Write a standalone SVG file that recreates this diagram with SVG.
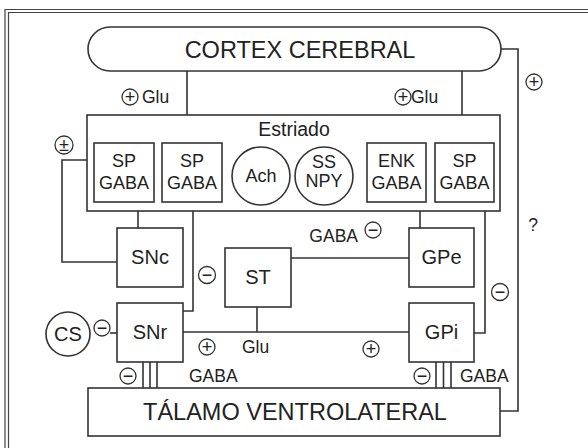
<svg xmlns="http://www.w3.org/2000/svg" width="588" height="448" viewBox="0 0 588 448">
<style>
text{font-family:"Liberation Sans",Arial,sans-serif;fill:#222}
.box{fill:#fff;stroke:#333;stroke-width:1.6}
.ln{fill:none;stroke:#333;stroke-width:1.6}
.frame{fill:none;stroke:#444;stroke-width:1.2}
.big{font-size:23.5px;text-anchor:middle}
.lbl{font-size:20px;text-anchor:middle}
.sm{font-size:18px;text-anchor:middle}
.tag{font-size:17.5px}
.sg circle{fill:#fff;stroke:#333;stroke-width:1.3}
.sg text{font-size:18px;text-anchor:middle}
</style>
<rect width="588" height="448" fill="#fff"/>
<path class="frame" d="M5,448 V9.5 H588"/>
<path class="frame" d="M8.5,448 V12.5 H588"/>

<g id="connectors">
  <path class="ln" d="M187,71 V115"/>
  <path class="ln" d="M462,71 V115"/>
  <path class="ln" d="M501,49 H518 V411 H500"/>
  <path class="ln" d="M87,160 H62 V262 H117"/>
  <path class="ln" d="M138,202 V228"/>
  <path class="ln" d="M193,202 V311 H183"/>
  <path class="ln" d="M420,202 V228"/>
  <path class="ln" d="M485,202 V333 H474"/>
  <path class="ln" d="M291,258 H409"/>
  <path class="ln" d="M257,307 V332"/>
  <path class="ln" d="M183,332 H409"/>
  <path class="ln" d="M110,333 H117"/>
  <path class="ln" d="M143,362 V388 M150,362 V388 M157,362 V388"/>
  <path class="ln" d="M436,362 V388 M443.5,362 V388 M451,362 V388"/>
</g>

<g id="cortex">
  <rect class="box" x="88" y="27" width="413" height="44" rx="22" ry="22"/>
  <text class="big" x="300" y="58">CORTEX CEREBRAL</text>
</g>

<g id="estriado">
  <rect class="box" x="87" y="115" width="413" height="96"/>
  <text x="294" y="136" font-size="19.5" text-anchor="middle">Estriado</text>
</g>
<g id="sp1">
  <rect class="box" x="94" y="143" width="60" height="59"/>
  <text class="sm" x="124" y="167">SP</text>
  <text class="sm" x="124" y="188.5">GABA</text>
</g>
<g id="sp2">
  <rect class="box" x="162" y="143" width="60" height="59"/>
  <text class="sm" x="192" y="167">SP</text>
  <text class="sm" x="192" y="188.5">GABA</text>
</g>
<g id="ach">
  <circle class="box" cx="261" cy="176" r="29"/>
  <text class="sm" x="261" y="182">Ach</text>
</g>
<g id="ssnpy">
  <circle class="box" cx="324" cy="176" r="29"/>
  <text class="sm" x="324" y="168">SS</text>
  <text class="sm" x="324" y="187">NPY</text>
</g>
<g id="enk">
  <rect class="box" x="367" y="143" width="59" height="59"/>
  <text class="sm" x="396.5" y="167">ENK</text>
  <text class="sm" x="396.5" y="188.5">GABA</text>
</g>
<g id="sp4">
  <rect class="box" x="435" y="143" width="59" height="59"/>
  <text class="sm" x="464.5" y="167">SP</text>
  <text class="sm" x="464.5" y="188.5">GABA</text>
</g>

<g id="snc">
  <rect class="box" x="117" y="228" width="66" height="59"/>
  <text class="lbl" x="150" y="264">SNc</text>
</g>
<g id="st">
  <rect class="box" x="225" y="248" width="66" height="59"/>
  <text class="lbl" x="258" y="284">ST</text>
</g>
<g id="gpe">
  <rect class="box" x="409" y="228" width="65" height="59"/>
  <text class="lbl" x="441.5" y="264">GPe</text>
</g>
<g id="snr">
  <rect class="box" x="117" y="303" width="66" height="59"/>
  <text class="lbl" x="150" y="339">SNr</text>
</g>
<g id="gpi">
  <rect class="box" x="409" y="303" width="65" height="59"/>
  <text class="lbl" x="441.5" y="339">GPi</text>
</g>
<g id="cs">
  <circle class="box" cx="68" cy="334" r="22"/>
  <text class="lbl" x="68" y="341">CS</text>
</g>
<g id="talamo">
  <rect class="box" x="88" y="388" width="412" height="48"/>
  <text class="big" x="295" y="420">TÁLAMO VENTROLATERAL</text>
</g>

<g id="signs">
  <g class="sg"><circle cx="130" cy="97" r="8"/><text x="130" y="103">+</text></g>
  <text class="tag" x="142" y="103">Glu</text>
  <g class="sg"><circle cx="403" cy="97" r="8"/><text x="403" y="103">+</text></g>
  <text class="tag" x="411" y="103">Glu</text>
  <g class="sg"><circle cx="64" cy="145" r="9"/><text x="64" y="151">±</text></g>
  <g class="sg"><circle cx="534" cy="82" r="8"/><text x="534" y="88">+</text></g>
  <text class="tag" x="533" y="231" text-anchor="middle">?</text>
  <text class="tag" x="358" y="242" text-anchor="end">GABA</text>
  <g class="sg"><circle cx="373" cy="230" r="8"/><text x="373" y="236">−</text></g>
  <g class="sg"><circle cx="207" cy="275" r="8.5"/><text x="207" y="281">−</text></g>
  <g class="sg"><circle cx="500" cy="292" r="8.5"/><text x="500" y="298">−</text></g>
  <g class="sg"><circle cx="102" cy="328" r="8"/><text x="102" y="334">−</text></g>
  <g class="sg"><circle cx="207" cy="347" r="8"/><text x="207" y="353">+</text></g>
  <text class="tag" x="242" y="353">Glu</text>
  <g class="sg"><circle cx="371" cy="349" r="8"/><text x="371" y="355">+</text></g>
  <g class="sg"><circle cx="128" cy="376" r="8"/><text x="128" y="382">−</text></g>
  <text class="tag" x="189" y="382">GABA</text>
  <g class="sg"><circle cx="422" cy="376" r="8"/><text x="422" y="382">−</text></g>
  <text class="tag" x="460" y="382">GABA</text>
</g>
</svg>
